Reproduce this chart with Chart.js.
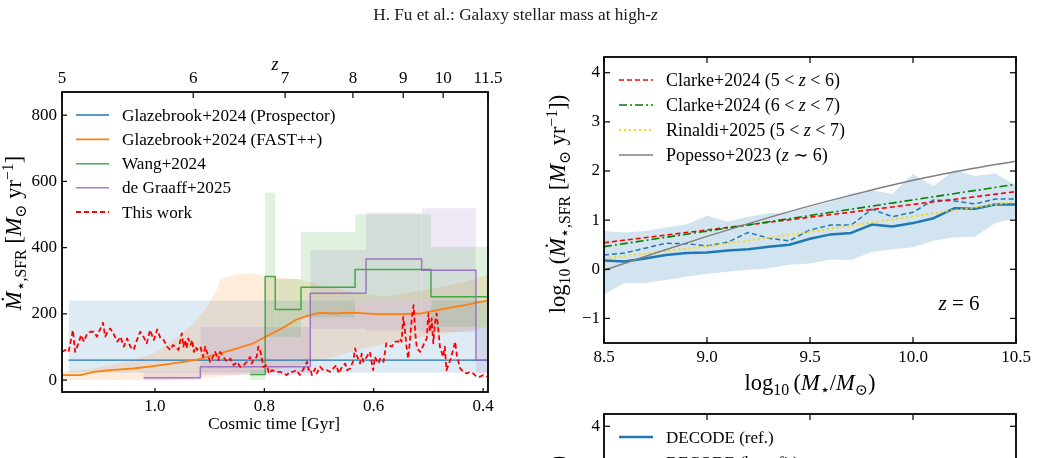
<!DOCTYPE html>
<html><head><meta charset="utf-8">
<script src="https://cdn.jsdelivr.net/npm/chart.js@4.4.1/dist/chart.umd.min.js"></script>
<style>
html,body{margin:0;padding:0;background:#fff;}
body{width:1040px;height:458px;overflow:hidden;position:relative;}
canvas{position:absolute;}
</style></head><body>
<canvas id="cT" width="1040" height="30" style="left:0;top:0"></canvas>
<canvas id="cL" width="530" height="428" style="left:0;top:30px"></canvas>
<canvas id="cR" width="510" height="370" style="left:530px;top:30px"></canvas>
<canvas id="cB" width="510" height="400" style="left:530px;top:380px"></canvas>
<script>
const FONT = "'Liberation Serif', 'DejaVu Serif', serif";

// ---------------- LEFT PANEL DATA (cosmic time in Gyr, SFR in Msun/yr) ----------------
const timeTicks = [1.0, 0.8, 0.6, 0.4];
const zTickLabels = ['5', '6', '7', '8', '9', '10', '11.5'];
const zTickAges = [1.170, 0.930, 0.762, 0.638, 0.546, 0.473, 0.391];
const sfrTicks = [0, 200, 400, 600, 800];

const prospectorAge = [1.158, 0.391];
const prospectorSFR = [60, 60];
const prospectorLo = [22, 22];
const prospectorHi = [240, 240];

const fastAge = [1.170, 1.136, 1.112, 1.082, 1.039, 1.003, 0.960, 0.923, 0.893, 0.856, 0.820, 0.795, 0.765, 0.741, 0.722, 0.698, 0.674, 0.637, 0.595, 0.552, 0.515, 0.491, 0.455, 0.430, 0.412, 0.391];
const fastSFR = [15, 15, 25, 30, 35, 42, 52, 62, 75, 93, 111, 133, 159, 183, 194, 203, 201, 204, 199, 199, 201, 209, 220, 227, 234, 240];
const fastBandAge = [1.170, 1.112, 1.051, 1.003, 0.966, 0.930, 0.905, 0.887, 0.881, 0.872, 0.850, 0.823, 0.799, 0.735, 0.674, 0.631, 0.582, 0.540, 0.491, 0.430, 0.391];
const fastBandLo = [0, 0, 0, 0, 2, 5, 8, 10, 11, 12, 15, 20, 25, 45, 70, 90, 110, 125, 135, 150, 160];
const fastBandHi = [25, 35, 55, 81, 121, 171, 221, 272, 302, 310, 319, 322, 314, 304, 277, 262, 252, 262, 277, 297, 320];

const wangEdges = [0.826, 0.7985, 0.780, 0.733, 0.634, 0.4953, 0.391];
const wangSFR = [17, 313, 213, 280, 334, 252];
const wangLo = [0, 130, 130, 190, 240, 160];
const wangHi = [30, 566, 305, 447, 501, 403];

const dgEdges = [1.021, 0.917, 0.716, 0.614, 0.5123, 0.4131, 0.391];
const dgSFR = [7, 40, 262, 366, 332, 60];
const dgLo = [0, 15, 155, 150, 145, 20];
const dgHi = [25, 160, 393, 505, 519, 160];

const thisAge = [1.170,1.164,1.158,1.150,1.146,1.140,1.135,1.130,1.124,1.118,1.112,1.106,1.101,1.095,1.091,1.088,1.082,1.076,1.069,1.063,1.057,1.051,1.045,1.039,1.033,1.027,1.021,1.015,1.009,1.002,0.996,0.990,0.984,0.978,0.972,0.967,0.963,0.957,0.951,0.948,0.945,0.942,0.939,0.935,0.932,0.929,0.926,0.923,0.917,0.912,0.908,0.905,0.899,0.894,0.890,0.884,0.881,0.875,0.868,0.862,0.856,0.850,0.844,0.838,0.832,0.826,0.823,0.820,0.814,0.811,0.808,0.805,0.802,0.795,0.792,0.786,0.780,0.771,0.765,0.759,0.753,0.747,0.741,0.735,0.728,0.722,0.719,0.716,0.713,0.707,0.704,0.698,0.692,0.686,0.680,0.674,0.668,0.664,0.658,0.652,0.649,0.643,0.637,0.634,0.631,0.625,0.622,0.619,0.613,0.607,0.604,0.601,0.598,0.591,0.588,0.582,0.577,0.573,0.567,0.561,0.555,0.552,0.549,0.546,0.543,0.540,0.537,0.534,0.530,0.527,0.524,0.521,0.515,0.509,0.503,0.500,0.497,0.494,0.491,0.488,0.485,0.482,0.479,0.473,0.470,0.467,0.460,0.454,0.451,0.448,0.442,0.436,0.430,0.424,0.418,0.412,0.406,0.400,0.393];
const thisSFR = [85,91,85,151,85,111,136,116,141,146,146,131,151,173,131,141,156,141,116,131,101,126,101,91,121,146,131,111,151,121,153,126,121,101,91,106,101,91,141,101,121,96,126,106,121,85,101,91,101,70,101,85,55,70,85,60,85,70,55,65,45,55,40,45,55,70,50,60,70,101,91,70,40,45,20,30,25,25,20,15,25,25,30,15,35,55,30,35,15,35,20,40,30,30,25,35,45,20,40,50,30,35,60,96,75,50,80,55,70,85,55,30,70,50,65,55,111,106,101,116,116,126,116,191,151,101,65,116,191,226,141,96,85,106,126,201,146,186,111,171,201,156,101,70,101,30,60,96,116,75,35,25,20,25,20,10,10,15,10];

// ---------------- RIGHT PANEL DATA (log10 M*, log10 SFR) ----------------
const massTicks = [8.5, 9.0, 9.5, 10.0, 10.5];
const logSfrTicks = [-1, 0, 1, 2, 3, 4];
const massGrid = [8.5, 8.6, 8.7, 8.8, 8.9, 9.0, 9.1, 9.2, 9.3, 9.4, 9.5, 9.6, 9.7, 9.8, 9.9, 10.0, 10.1, 10.2, 10.3, 10.4, 10.5];
const decodeRef = [0.18, 0.16, 0.22, 0.29, 0.33, 0.34, 0.38, 0.41, 0.46, 0.50, 0.62, 0.71, 0.74, 0.91, 0.87, 0.94, 1.04, 1.24, 1.23, 1.32, 1.32];
const decodeAlt = [0.29, 0.33, 0.43, 0.53, 0.52, 0.48, 0.55, 0.75, 0.63, 0.58, 0.80, 0.90, 0.90, 1.22, 1.07, 1.16, 1.41, 1.39, 1.33, 1.43, 1.43];
const decodeLo = [-0.51, -0.28, -0.28, -0.22, -0.15, -0.09, -0.05, -0.01, 0.02, 0.09, 0.12, 0.20, 0.19, 0.35, 0.41, 0.45, 0.58, 0.65, 0.66, 0.94, 1.04];
const decodeHi = [0.78, 0.75, 0.78, 0.85, 0.91, 1.09, 0.97, 1.07, 1.14, 1.16, 1.27, 1.37, 1.54, 1.61, 1.53, 1.94, 1.69, 2.02, 1.90, 1.95, 1.71];
const clarkeMass = [8.5, 10.5];
const clarke56 = [0.54, 1.58];
const clarke67 = [0.46, 1.73];
const rinaldiMass = [8.5, 9.0, 9.5, 10.0, 10.5];
const rinaldiSFR = [0.22, 0.47, 0.76, 1.08, 1.38];
const popessoMass = [8.5, 8.75, 9.0, 9.25, 9.5, 9.75, 10.0, 10.25, 10.5];
const popessoSFR = [-0.02, 0.33, 0.67, 0.99, 1.29, 1.56, 1.81, 2.02, 2.20];

// ---------------- helpers ----------------
function pts(xs, ys) { const n = Math.min(xs.length, ys.length); const o = []; for (let i = 0; i < n; i++) o.push({x: xs[i], y: ys[i]}); return o; }
function stepPts(edges, vals) { const p = vals.map((v, i) => ({x: edges[i], y: v})); p.push({x: edges[edges.length - 1], y: vals[vals.length - 1]}); return p; }
function rects(edges, lo, hi, color, order) {
  return hi.map((h, i) => ({
    data: [{x: edges[i], y: h}, {x: edges[i + 1], y: h}],
    fill: {value: lo[i]}, backgroundColor: color, borderColor: 'transparent', borderWidth: 0, order: order
  }));
}
function fixedTicks(vals) { return s => { s.ticks = vals.map(v => ({value: v})); }; }
const tickFont = {family: FONT, size: 17};

function drawRich(ctx, it) {
  const size = it.size;
  ctx.save();
  ctx.translate(it.x, it.y);
  if (it.rot) ctx.rotate(it.rot);
  ctx.fillStyle = it.color || '#000';
  ctx.textBaseline = 'alphabetic';
  const parts = it.segs.map(s => {
    const sz = (s.sub || s.sup) ? size * 0.7 : size;
    const font = (s.i ? 'italic ' : '') + sz + 'px ' + FONT;
    ctx.font = font;
    return {s, font, w: ctx.measureText(s.t).width};
  });
  const total = parts.reduce((a, p) => a + p.w, 0);
  let x = it.align === 'center' ? -total / 2 : (it.align === 'right' ? -total : 0);
  const base = size * 0.33;
  for (const p of parts) {
    ctx.font = p.font;
    const dy = p.s.sub ? size * 0.22 : (p.s.sup ? -size * 0.38 : 0);
    ctx.fillText(p.s.t, x, base + dy);
    x += p.w;
  }
  ctx.restore();
}

// page header text
drawRich(document.getElementById('cT').getContext('2d'),
  {x: 515.5, y: 14, size: 17.2, align: 'center', color: '#1a1a1a', segs: [{t: 'H. Fu et al.: Galaxy stellar mass at high-'}, {t: 'z', i: 1}]});

const decor = {
  id: 'decor',
  afterDatasetsDraw(chart, args, o) {
    const ctx = chart.ctx, a = chart.chartArea;
    ctx.save();
    (o.legend || []).forEach(l => {
      ctx.beginPath(); ctx.strokeStyle = l.color; ctx.lineWidth = l.w; ctx.setLineDash(l.dash || []);
      ctx.moveTo(l.x0 - o.ox, l.y - o.oy); ctx.lineTo(l.x1 - o.ox, l.y - o.oy); ctx.stroke();
    });
    ctx.setLineDash([]);
    (o.texts || []).forEach(t => drawRich(ctx, Object.assign({}, t, {x: t.x - o.ox, y: t.y - o.oy})));
    ctx.strokeStyle = '#000'; ctx.lineWidth = 1.2;
    (o.ticks || []).forEach(t => {
      const s = chart.scales[t.scale];
      s.ticks.forEach(tk => {
        const p = s.getPixelForValue(tk.value);
        ctx.beginPath();
        if (t.side === 'left') { ctx.moveTo(a.left, p); ctx.lineTo(a.left + t.len, p); }
        else if (t.side === 'right') { ctx.moveTo(a.right, p); ctx.lineTo(a.right - t.len, p); }
        else if (t.side === 'top') { ctx.moveTo(p, a.top); ctx.lineTo(p, a.top + t.len); }
        else { ctx.moveTo(p, a.bottom); ctx.lineTo(p, a.bottom - t.len); }
        ctx.stroke();
      });
    });
    ctx.lineWidth = o.frame;
    ctx.strokeRect(a.left, a.top, a.right - a.left, a.bottom - a.top);
    ctx.restore();
  }
};

const baseOpts = {
  responsive: false, animation: false, devicePixelRatio: 1,
  elements: {point: {radius: 0, hoverRadius: 0}, line: {tension: 0, borderJoinStyle: 'round'}},
  plugins: {legend: {display: false}, tooltip: {enabled: false}}
};
function axis(extra) {
  return Object.assign({
    type: 'linear', grid: {display: false, drawTicks: false}, border: {display: false},
  }, extra);
}
function tk(cb, pad) { return {callback: cb, font: tickFont, color: '#000', padding: pad, maxRotation: 0, minRotation: 0, autoSkip: false}; }
const fmtMinus = v => (v < 0 ? '\u2212' + Math.abs(v) : String(v));

// ---------------- LEFT CHART ----------------
const C0 = '#1f77b4', C1 = '#ff7f0e', C2g = 'rgba(44,160,44,0.85)', C4p = 'rgba(148,103,189,0.85)';
const leftDatasets = [
  {data: pts(thisAge, thisSFR), borderColor: '#ff0000', borderWidth: 1.8, borderDash: [5, 3], fill: false, order: 0},
  {data: stepPts(dgEdges, dgSFR), stepped: 'before', borderColor: C4p, borderWidth: 1.5, fill: false, order: 1},
  {data: stepPts(wangEdges, wangSFR), stepped: 'before', borderColor: C2g, borderWidth: 1.5, fill: false, order: 2},
  {data: pts(fastAge, fastSFR), borderColor: C1, borderWidth: 1.8, fill: false, order: 3},
  {data: pts(prospectorAge, prospectorSFR), borderColor: C0, borderWidth: 1.3, fill: false, order: 4},
  {data: pts(fastBandAge, fastBandLo), borderColor: 'transparent', borderWidth: 0, fill: false, order: 20},
  {data: pts(fastBandAge, fastBandHi), borderColor: 'transparent', borderWidth: 0, fill: '-1', backgroundColor: 'rgba(255,127,14,0.15)', order: 20},
  {data: pts(prospectorAge, prospectorHi), borderColor: 'transparent', borderWidth: 0, fill: {value: prospectorLo[0]}, backgroundColor: 'rgba(31,119,180,0.15)', order: 21},
].concat(rects(wangEdges, wangLo, wangHi, 'rgba(44,160,44,0.15)', 15))
 .concat(rects(dgEdges, dgLo, dgHi, 'rgba(148,103,189,0.15)', 16));

const leftLegend = [
  {label: 'Glazebrook+2024 (Prospector)', color: C0, w: 1.3},
  {label: 'Glazebrook+2024 (FAST++)', color: C1, w: 1.8},
  {label: 'Wang+2024', color: C2g, w: 1.5},
  {label: 'de Graaff+2025', color: C4p, w: 1.5},
  {label: 'This work', color: '#ff0000', w: 1.8, dash: [5, 3]},
];
const lRows = [115, 139.3, 163.7, 187.7, 212];

new Chart(document.getElementById('cL'), {
  type: 'line',
  data: {datasets: leftDatasets},
  options: Object.assign({}, baseOpts, {
    layout: {padding: {left: 0, top: 0, right: 42, bottom: 0}},
    scales: {
      x: axis({position: 'bottom', reverse: true, min: 0.391, max: 1.170,
        afterBuildTicks: fixedTicks(timeTicks), ticks: tk(v => v.toFixed(1), 4),
        afterFit: s => { s.height = 66; }}),
      x2: axis({position: 'top', reverse: true, min: 0.391, max: 1.170,
        afterBuildTicks: fixedTicks(zTickAges), ticks: tk((v, i) => zTickLabels[i], 3),
        afterFit: s => { s.height = 62; }}),
      y: axis({position: 'left', min: -36, max: 870,
        afterBuildTicks: fixedTicks(sfrTicks), ticks: tk(v => String(v), 5),
        afterFit: s => { s.width = 62; }})
    },
    plugins: Object.assign({}, baseOpts.plugins, {
      decor: {
        ox: 0, oy: 30, frame: 1.8,
        ticks: [{scale: 'y', side: 'left', len: 5}, {scale: 'x', side: 'bottom', len: 4}, {scale: 'x2', side: 'top', len: 6}],
        legend: leftLegend.map((l, i) => ({x0: 76, x1: 109, y: lRows[i], color: l.color, w: l.w, dash: l.dash})),
        texts: leftLegend.map((l, i) => ({x: 122, y: lRows[i], size: 17.2, align: 'left', segs: [{t: l.label}]})).concat([
          {x: 274, y: 423, size: 17.5, align: 'center', segs: [{t: 'Cosmic time [Gyr]'}]},
          {x: 275, y: 64, size: 18, align: 'center', segs: [{t: 'z', i: 1}]},
          {x: 14, y: 233, size: 22.5, align: 'center', rot: -Math.PI / 2, segs: [
            {t: '\u1E40', i: 1}, {t: '\u22C6', sub: 1}, {t: ',SFR', sub: 1}, {t: ' ['}, {t: 'M', i: 1}, {t: '\u2299', sub: 1}, {t: ' yr'}, {t: '\u22121', sup: 1}, {t: ']'}]}
        ])
      }
    })
  }),
  plugins: [decor]
});

// ---------------- RIGHT CHART ----------------
const rightLegend = [
  {segs: [{t: 'Clarke+2024 (5 < '}, {t: 'z', i: 1}, {t: ' < 6)'}], color: '#ff0000', w: 1.6, dash: [5, 3]},
  {segs: [{t: 'Clarke+2024 (6 < '}, {t: 'z', i: 1}, {t: ' < 7)'}], color: '#008000', w: 1.6, dash: [8, 3, 2, 3]},
  {segs: [{t: 'Rinaldi+2025 (5 < '}, {t: 'z', i: 1}, {t: ' < 7)'}], color: '#ffd700', w: 2, dash: [2, 3]},
  {segs: [{t: 'Popesso+2023 ('}, {t: 'z', i: 1}, {t: ' \u223C 6)'}], color: '#808080', w: 1.5},
];
const rRows = [80, 105, 130, 155];
const logSfrTitle = [{t: 'log'}, {t: '10', sub: 1}, {t: '\u2009('}, {t: '\u1E40', i: 1}, {t: '\u22C6,SFR', sub: 1}, {t: ' ['}, {t: 'M', i: 1}, {t: '\u2299', sub: 1}, {t: ' yr'}, {t: '\u22121', sup: 1}, {t: '])'}];

new Chart(document.getElementById('cR'), {
  type: 'line',
  data: {datasets: [
    {data: pts(popessoMass, popessoSFR), borderColor: '#808080', borderWidth: 1.5, cubicInterpolationMode: 'monotone', fill: false, order: 0},
    {data: pts(rinaldiMass, rinaldiSFR), borderColor: '#ffd700', borderWidth: 2, borderDash: [2, 3], fill: false, order: 1},
    {data: pts(clarkeMass, clarke67), borderColor: '#008000', borderWidth: 1.6, borderDash: [8, 3, 2, 3], fill: false, order: 2},
    {data: pts(clarkeMass, clarke56), borderColor: '#ff0000', borderWidth: 1.6, borderDash: [5, 3], fill: false, order: 3},
    {data: pts(massGrid, decodeAlt), borderColor: C0, borderWidth: 1.5, borderDash: [5, 3], fill: false, order: 4},
    {data: pts(massGrid, decodeRef), borderColor: C0, borderWidth: 2.5, fill: false, order: 5},
    {data: pts(massGrid, decodeLo), borderColor: 'transparent', borderWidth: 0, fill: false, order: 10},
    {data: pts(massGrid, decodeHi), borderColor: 'transparent', borderWidth: 0, fill: '-1', backgroundColor: 'rgba(31,119,180,0.2)', order: 10},
  ]},
  options: Object.assign({}, baseOpts, {
    layout: {padding: {left: 0, top: 27, right: 24, bottom: 0}},
    scales: {
      x: axis({position: 'bottom', min: 8.5, max: 10.5,
        afterBuildTicks: fixedTicks(massTicks), ticks: tk(v => v.toFixed(1), 4),
        afterFit: s => { s.height = 57; }}),
      y: axis({position: 'left', min: -1.5, max: 4.32,
        afterBuildTicks: fixedTicks(logSfrTicks), ticks: tk(fmtMinus, 4),
        afterFit: s => { s.width = 74; }})
    },
    plugins: Object.assign({}, baseOpts.plugins, {
      decor: {
        ox: 530, oy: 30, frame: 1.8,
        ticks: [{scale: 'y', side: 'left', len: 6}, {scale: 'y', side: 'right', len: 6}, {scale: 'x', side: 'bottom', len: 6}, {scale: 'x', side: 'top', len: 6}],
        legend: rightLegend.map((l, i) => ({x0: 619, x1: 653, y: rRows[i], color: l.color, w: l.w, dash: l.dash})),
        texts: rightLegend.map((l, i) => ({x: 666, y: rRows[i], size: 18, align: 'left', segs: l.segs})).concat([
          {x: 810, y: 383, size: 22.5, align: 'center', segs: [{t: 'log'}, {t: '10', sub: 1}, {t: '\u2009('}, {t: 'M', i: 1}, {t: '\u22C6', sub: 1}, {t: '/'}, {t: 'M', i: 1}, {t: '\u2299', sub: 1}, {t: ')'}]},
          {x: 558, y: 204, size: 22.5, align: 'center', rot: -Math.PI / 2, segs: logSfrTitle},
          {x: 959, y: 303, size: 21, align: 'center', segs: [{t: 'z', i: 1}, {t: ' = 6'}]}
        ])
      }
    })
  }),
  plugins: [decor]
});

// ---------------- BOTTOM-RIGHT CHART (cut off by the page edge) ----------------
const bottomLegend = [
  {label: 'DECODE (ref.)', color: C0, w: 2.5},
  {label: 'DECODE (best-fit)', color: C0, w: 1.5, dash: [5, 3]},
];
const bRows = [437, 462];
new Chart(document.getElementById('cB'), {
  type: 'line',
  data: {datasets: []},
  options: Object.assign({}, baseOpts, {
    layout: {padding: {left: 0, top: 34, right: 24, bottom: 0}},
    scales: {
      x: axis({position: 'bottom', min: 8.5, max: 10.5,
        afterBuildTicks: fixedTicks(massTicks), ticks: tk(v => v.toFixed(1), 4),
        afterFit: s => { s.height = 80; }}),
      y: axis({position: 'left', min: -1.57, max: 4.25,
        afterBuildTicks: fixedTicks(logSfrTicks), ticks: tk(fmtMinus, 4),
        afterFit: s => { s.width = 74; }})
    },
    plugins: Object.assign({}, baseOpts.plugins, {
      decor: {
        ox: 530, oy: 380, frame: 1.8,
        ticks: [{scale: 'y', side: 'left', len: 6}, {scale: 'y', side: 'right', len: 6}, {scale: 'x', side: 'bottom', len: 6}, {scale: 'x', side: 'top', len: 6}],
        legend: bottomLegend.map((l, i) => ({x0: 619, x1: 653, y: bRows[i], color: l.color, w: l.w, dash: l.dash})),
        texts: bottomLegend.map((l, i) => ({x: 666, y: bRows[i], size: 17, align: 'left', segs: [{t: l.label}]})).concat([
          {x: 558, y: 565, size: 22.5, align: 'center', rot: -Math.PI / 2, segs: logSfrTitle}
        ])
      }
    })
  }),
  plugins: [decor]
});
</script>
</body></html>
